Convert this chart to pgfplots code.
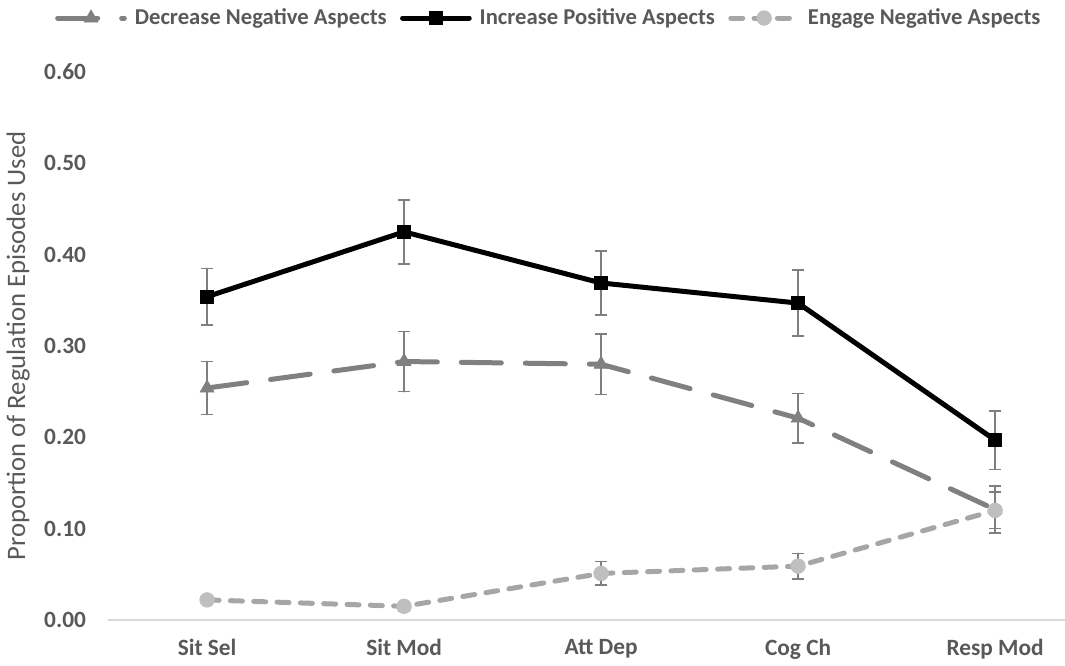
\documentclass[border=0pt]{standalone}
\usepackage{fontspec}
\setmainfont{Carlito}
\usepackage{pgfplots}
\pgfplotsset{compat=1.18}
\definecolor{txt}{HTML}{595959}
\definecolor{decr}{HTML}{808080}
\definecolor{eng}{HTML}{A6A6A6}
\definecolor{engm}{HTML}{BFBFBF}
\definecolor{errc}{HTML}{7F7F7F}
\definecolor{axc}{HTML}{D9D9D9}
\pgfplotstableread{
x y e
0 0.254 0.029
1 0.283 0.033
2 0.280 0.033
3 0.221 0.027
4 0.121 0.026
}\decrease
\pgfplotstableread{
x y e
0 0.354 0.031
1 0.425 0.035
2 0.369 0.035
3 0.347 0.036
4 0.197 0.032
}\increase
\pgfplotstableread{
x y e
0 0.022 0.004
1 0.015 0.005
2 0.051 0.013
3 0.059 0.014
4 0.120 0.020
}\engage
\begin{document}
\begin{tikzpicture}[x=0.75pt,y=0.75pt]
\begin{axis}[
  at={(0,0)}, anchor=south west,
  scale only axis, width=717.75pt, height=411pt,
  xmin=-0.503, xmax=4.355, ymin=0, ymax=0.6,
  xtick={0,1,2,3,4},
  xticklabels={Sit Sel,Sit Mod,Att Dep,Cog Ch,Resp Mod},
  ytick={0,0.1,0.2,0.3,0.4,0.5,0.6},
  major tick length=0,
  axis lines*=left,
  x axis line style={axc, line width=1.2pt, -},
  y axis line style={draw=none},
  /pgf/number format/.cd, fixed, fixed zerofill, precision=2, assume math mode=true,
  /pgfplots/.cd,
  tick label style={font=\fontsize{17.5}{21}\selectfont\bfseries, text=txt},
  yticklabel style={xshift=-13pt},
  xticklabel style={yshift=-11pt},
  ylabel={Proportion of Regulation Episodes Used},
  ylabel style={at={(axis description cs:-0.094,0.5)}, anchor=center, font=\fontsize{20}{24}\selectfont, text=txt},
  legend columns=3,
  legend style={at={(axis description cs:0.461,1.0985)}, anchor=center, draw=none, fill=none,
    font=\fontsize{17}{20}\selectfont\bfseries, text=txt,
    /tikz/every odd column/.append style={column sep=4pt},
    /tikz/every even column/.append style={column sep=8pt}},
  legend cell align=left,
  legend image code/.code={\draw[mark repeat=2,mark phase=2] plot coordinates {(0pt,0pt) (25pt,0pt) (50pt,0pt)};},
  error bars/y dir=both, error bars/y explicit,
  error bars/error bar style={solid, errc, line width=1.2pt},
  error bars/error mark options={solid, errc, line width=1.2pt, mark size=4.5pt, rotate=90},
]
\addplot[decr, line width=3.75pt, dash pattern=on 30pt off 18pt, line cap=round,
  mark=triangle*, mark size=6pt, mark options={solid, fill=decr, draw=decr, line width=0.5pt}]
  table[x=x, y=y, y error=e] {\decrease};
\addlegendentry{Decrease Negative Aspects}
\addplot[black, line width=3.75pt, line cap=round,
  mark=square*, mark size=5pt, mark options={solid, fill=black, line width=0.5pt}]
  table[x=x, y=y, y error=e] {\increase};
\addlegendentry{Increase Positive Aspects}
\addplot[eng, line width=3.75pt, dash pattern=on 9pt off 8.5pt, line cap=round,
  mark=*, mark size=5.5pt, mark options={solid, fill=engm, draw=engm, line width=0.5pt}]
  table[x=x, y=y, y error=e] {\engage};
\addlegendentry{Engage Negative Aspects}
\end{axis}
\pgfresetboundingbox
\useasboundingbox (-108,-45) rectangle (957,620);
\end{tikzpicture}
\end{document}
